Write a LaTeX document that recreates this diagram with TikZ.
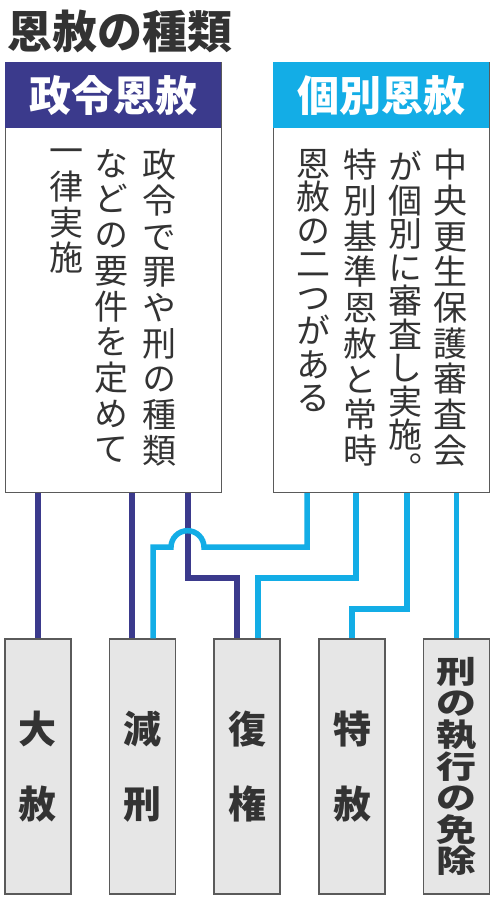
\documentclass[tikz,border=0pt]{standalone}
\usepackage{fontspec}
\setmainfont{Noto Sans CJK JP}
\newfontfamily\jpv[RawFeature=+vert]{Noto Sans CJK JP}
\definecolor{navy}{HTML}{3B3A8C}
\definecolor{sky}{HTML}{13ADE6}
\definecolor{ink}{HTML}{333333}
\definecolor{boxgray}{HTML}{E6E6E6}
\definecolor{framec}{HTML}{5A5A5A}
\tikzset{
  frameBox/.style={draw=framec, line width=1.2pt, fill=white, minimum width=216pt, minimum height=430pt, inner sep=0, anchor=north west},
  headBox/.style={minimum width=216pt, minimum height=66pt, inner sep=0, anchor=north west, text=white, font=\bfseries\fontsize{42}{42}\selectfont},
  bodyText/.style={anchor=north, inner sep=0, align=center, text=ink, font=\jpv\fontsize{34}{35.7}\selectfont},
  bodyTight/.style={bodyText, font=\jpv\fontsize{34}{33.5}\selectfont},
  leaf/.style={draw=framec, line width=1.2pt, fill=boxgray, minimum width=66pt, minimum height=255pt, inner sep=0},
  leafText/.style={text=ink, align=center, font=\bfseries\fontsize{38}{75}\selectfont},
  menjoText/.style={text=ink, align=center, inner sep=0, font=\bfseries\fontsize{40}{40.5}\selectfont, yscale=0.78, transform shape},
  navyline/.style={draw=navy, line width=5.5pt, line join=miter},
  skyline/.style={draw=sky, line width=5.5pt, line join=miter},
}
\begin{document}
\begin{tikzpicture}[x=1pt,y=-1pt]
\useasboundingbox[fill=white] (0,0) rectangle (495,900);
% title
\node[anchor=west, inner sep=0, text=ink, font=\bfseries\fontsize{45}{45}\selectfont] (title) at (7,31) {恩赦の種類};
% upper boxes
\node[frameBox] (seirei) at (5,62) {};
\node[headBox, fill=navy] (seireiH) at (5,62) {政令恩赦};
\node[frameBox] (kobetsu) at (273,62) {};
\node[headBox, fill=sky] (kobetsuH) at (273,62) {個別恩赦};
% body texts
\node[bodyText] (l1) at (159,149) {政\\令\\で\\罪\\や\\刑\\の\\種\\類};
\node[bodyText] (l2) at (111,149) {な\\ど\\の\\要\\件\\を\\定\\め\\て};
\node[bodyText] (l3) at (66,149) {一\\律\\実\\施};
\node[bodyText] (r1) at (450,149) {中\\央\\更\\生\\保\\護\\審\\査\\会};
\node[bodyTight] (r2) at (405,151) {が\\個\\別\\に\\審\\査\\し\\実\\施\\。};
\node[bodyText] (r3) at (360,149) {特\\別\\基\\準\\恩\\赦\\と\\常\\時};
\node[bodyTight] (r4) at (313,149) {恩\\赦\\の\\二\\つ\\が\\あ\\る};
% lower boxes
\node[leaf, leafText] (taisha) at (38,766.5) {大\\赦};
\node[leaf, leafText] (genkei) at (142.5,766.5) {減\\刑};
\node[leaf, leafText] (fukken) at (247,766.5) {復\\権};
\node[leaf, leafText] (tokusha) at (352,766.5) {特\\赦};
\node[leaf] (menjo) at (456.5,766.5) {};
\node[menjoText] (menjoT) at (menjo) {刑\\の\\執\\行\\の\\免\\除};
% attachment points
\coordinate (genkeiL) at ([xshift=-10.5pt]genkei.north);
\coordinate (genkeiR) at ([xshift=10.5pt]genkei.north);
\coordinate (fukkenL) at ([xshift=-10pt]fukken.north);
\coordinate (fukkenR) at ([xshift=11pt]fukken.north);
% navy connectors
\draw[navyline] (seirei.south -| taisha.north) -- (taisha.north);
\draw[navyline] (seirei.south -| genkeiL) -- (genkeiL);
\draw[navyline] ([xshift=183pt]seirei.south west) -- ++(0,85) -| (fukkenL);
% sky connectors
\draw[skyline] ([xshift=34pt]kobetsu.south west) -- ++(0,54) -- ++(-103,0)
   arc[start angle=0, end angle=180, radius=16.5pt] -| (genkeiR);
\draw[skyline] ([xshift=83pt]kobetsu.south west) -- ++(0,85) -| (fukkenR);
\draw[skyline] ([xshift=134pt]kobetsu.south west) -- ++(0,116) -| (tokusha.north);
\draw[skyline] (kobetsu.south -| menjo.north) -- (menjo.north);
\end{tikzpicture}
\end{document}
